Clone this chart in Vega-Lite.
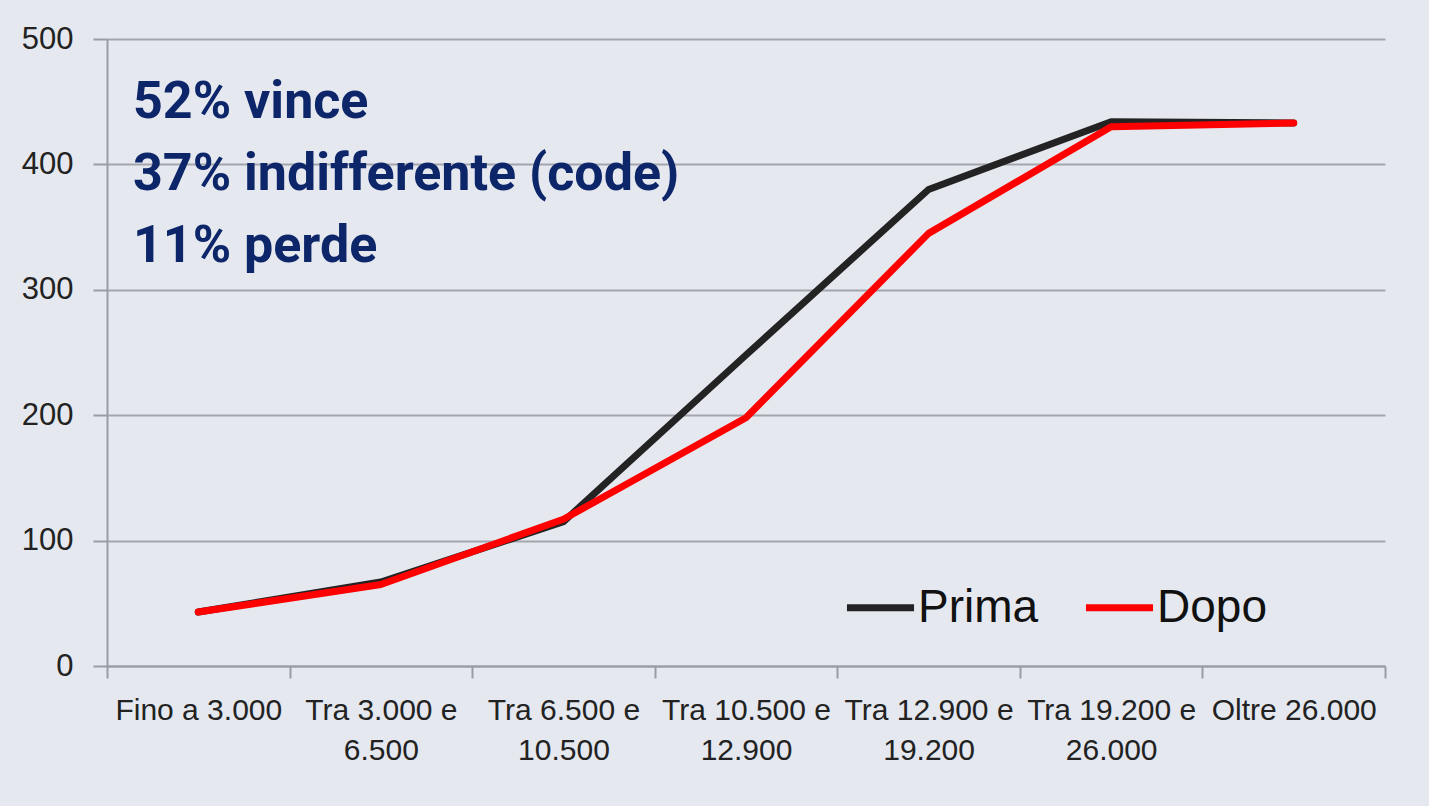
{
  "$schema": "https://vega.github.io/schema/vega-lite/v6.json",
  "autosize": "none",
  "width": 1278,
  "height": 627,
  "padding": {"left": 107, "top": 39, "right": 44, "bottom": 140},
  "background": "#e5e8ef",
  "config": {
    "view": {"stroke": null, "fill": "#e5e8ef"},
    "font": "Liberation Sans"
  },
  "layer": [
    {
      "data": {
        "values": [
          {"cat": "Fino a 3.000", "serie": "Prima", "v": 43},
          {"cat": "Tra 3.000 e 6.500", "serie": "Prima", "v": 67},
          {"cat": "Tra 6.500 e 10.500", "serie": "Prima", "v": 115},
          {"cat": "Tra 10.500 e 12.900", "serie": "Prima", "v": 248},
          {"cat": "Tra 12.900 e 19.200", "serie": "Prima", "v": 380},
          {"cat": "Tra 19.200 e 26.000", "serie": "Prima", "v": 434},
          {"cat": "Oltre 26.000", "serie": "Prima", "v": 433},
          {"cat": "Fino a 3.000", "serie": "Dopo", "v": 43},
          {"cat": "Tra 3.000 e 6.500", "serie": "Dopo", "v": 65},
          {"cat": "Tra 6.500 e 10.500", "serie": "Dopo", "v": 117},
          {"cat": "Tra 10.500 e 12.900", "serie": "Dopo", "v": 198},
          {"cat": "Tra 12.900 e 19.200", "serie": "Dopo", "v": 345},
          {"cat": "Tra 19.200 e 26.000", "serie": "Dopo", "v": 430},
          {"cat": "Oltre 26.000", "serie": "Dopo", "v": 433}
        ]
      },
      "mark": {"type": "line", "strokeWidth": 7, "strokeCap": "round", "strokeJoin": "round"},
      "encoding": {
        "x": {
          "field": "cat",
          "type": "nominal",
          "sort": null,
          "scale": {
            "domain": ["Fino a 3.000", "Tra 3.000 e 6.500", "Tra 6.500 e 10.500", "Tra 10.500 e 12.900", "Tra 12.900 e 19.200", "Tra 19.200 e 26.000", "Oltre 26.000"],
            "paddingInner": 0,
            "paddingOuter": 0
          },
          "axis": {
            "title": null,
            "labelAngle": 0,
            "labelFontSize": 30,
            "labelColor": "#222222",
            "labelLineHeight": 40,
            "labelPadding": 17,
            "labelExpr": "indexof(datum.label, ' e ') > 0 ? [substring(datum.label, 0, indexof(datum.label, ' e ') + 2), substring(datum.label, indexof(datum.label, ' e ') + 3)] : datum.label",
            "tickBand": "extent",
            "tickSize": 12,
            "tickColor": "#9a9ca3",
            "tickWidth": 2,
            "domainColor": "#9a9ca3",
            "domainWidth": 2,
            "grid": false,
            "labelLimit": 300
          }
        },
        "y": {
          "field": "v",
          "type": "quantitative",
          "scale": {"domain": [0, 500], "nice": false},
          "axis": {
            "title": null,
            "values": [0, 100, 200, 300, 400, 500],
            "labelFontSize": 31,
            "labelColor": "#222222",
            "labelPadding": 20,
            "tickSize": 14,
            "tickColor": "#9a9ca3",
            "tickWidth": 2,
            "domainColor": "#9a9ca3",
            "domainWidth": 2,
            "grid": true,
            "gridColor": "#a3a5ac",
            "gridWidth": 2
          }
        },
        "color": {
          "field": "serie",
          "type": "nominal",
          "sort": ["Prima", "Dopo"],
          "scale": {"domain": ["Prima", "Dopo"], "range": ["#232323", "#ff0000"]},
          "legend": {
            "title": null,
            "orient": "none",
            "legendX": 736,
            "legendY": 531,
            "direction": "horizontal",
            "symbolType": "stroke",
            "symbolSize": 4500,
            "symbolStrokeWidth": 7,
            "labelFontSize": 46,
            "labelColor": "#111111",
            "labelOffset": 0,
            "columnPadding": 32,
            "labelLimit": 300
          }
        }
      }
    },
    {
      "data": {
        "values": [
          {"cat": "Fino a 3.000", "testo": "52% vince", "v": 437},
          {"cat": "Fino a 3.000", "testo": "37% indifferente (code)", "v": 379.6},
          {"cat": "Fino a 3.000", "testo": "11% perde", "v": 322.2}
        ]
      },
      "mark": {
        "type": "text",
        "align": "left",
        "baseline": "alphabetic",
        "dx": 26,
        "font": "Roboto",
        "fontWeight": "bold",
        "fontSize": 52,
        "color": "#0c2669"
      },
      "encoding": {
        "x": {"field": "cat", "type": "nominal", "bandPosition": 0},
        "y": {"field": "v", "type": "quantitative"},
        "text": {"field": "testo"}
      }
    }
  ]
}
